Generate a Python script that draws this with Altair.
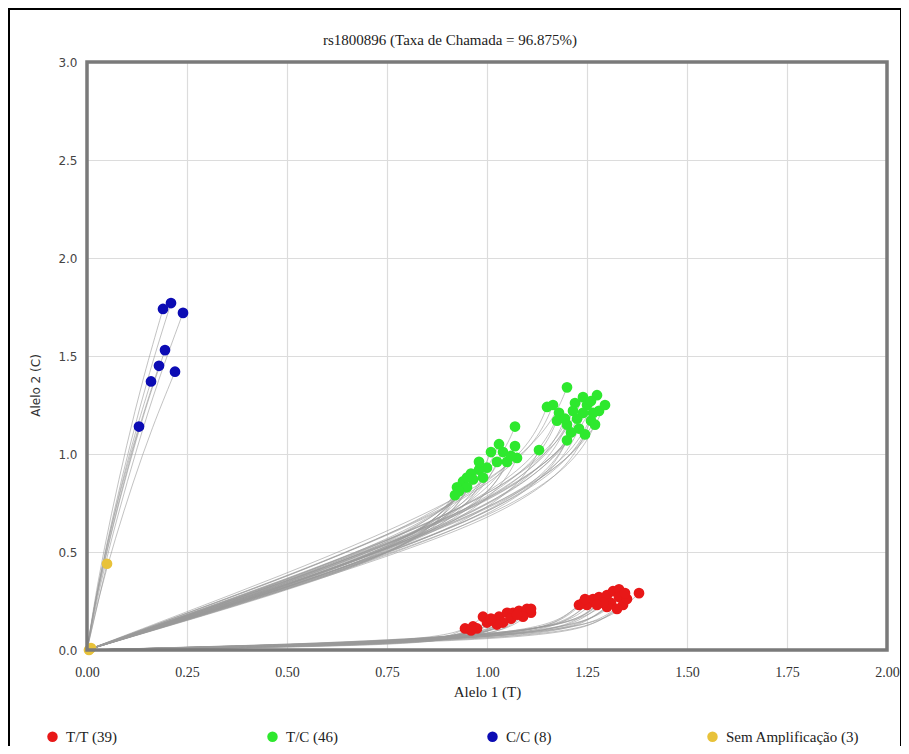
import altair as alt
import pandas as pd

# ---- data ----
TT_X = [0.945, 0.965, 0.99, 1.00, 1.015, 1.03, 1.05, 1.065, 1.08, 1.10, 1.11, 1.09, 1.06, 1.04, 1.025, 0.975,
        0.96, 1.01, 1.075, 1.11,
        1.24, 1.25, 1.265, 1.28, 1.30, 1.315, 1.33, 1.33, 1.31, 1.30, 1.34, 1.325, 1.38, 1.29, 1.23, 1.35,
        1.245, 1.275, 1.345]
TT_Y = [0.11, 0.12, 0.17, 0.14, 0.15, 0.17, 0.19, 0.19, 0.20, 0.21, 0.19, 0.17, 0.16, 0.14, 0.13, 0.11,
        0.10, 0.16, 0.18, 0.21,
        0.24, 0.23, 0.26, 0.27, 0.28, 0.30, 0.31, 0.27, 0.24, 0.22, 0.23, 0.21, 0.29, 0.24, 0.23, 0.26,
        0.26, 0.23, 0.29]

TC_X = [1.20, 1.275, 1.24, 1.15, 1.18, 1.215, 1.25, 1.28, 1.225, 1.26, 1.20, 1.23, 1.20, 1.265, 1.175,
        1.165, 1.22, 1.26, 1.195, 1.24, 1.27, 1.21, 1.245, 1.295,
        1.07, 1.13, 1.07, 1.04, 1.01, 1.075, 1.05, 1.025, 1.00, 0.98, 0.96, 0.99, 0.965, 0.94, 0.925,
        0.95, 0.93, 1.03, 0.98, 1.06, 0.95, 0.92]
TC_Y = [1.34, 1.30, 1.29, 1.24, 1.21, 1.22, 1.25, 1.22, 1.18, 1.17, 1.15, 1.13, 1.07, 1.21, 1.17,
        1.25, 1.26, 1.27, 1.18, 1.21, 1.15, 1.11, 1.10, 1.25,
        1.14, 1.02, 1.04, 1.01, 1.01, 0.98, 0.96, 0.96, 0.93, 0.92, 0.90, 0.88, 0.87, 0.86, 0.83,
        0.83, 0.81, 1.05, 0.96, 0.99, 0.88, 0.79]

CC_X = [0.19, 0.21, 0.24, 0.195, 0.18, 0.22, 0.16, 0.13]
CC_Y = [1.74, 1.77, 1.72, 1.53, 1.45, 1.42, 1.37, 1.14]

NA_X = [0.05, 0.01, 0.005]
NA_Y = [0.44, 0.01, 0.0]

GROUPS = ["T/T (39)", "T/C (46)", "C/C (8)", "Sem Amplificação (3)"]
COLORS = ["#e81818", "#2ee82e", "#0c0cb4", "#e8c23a"]

# trajectory shapes (fraction of the end point)
RED_FX = [0, 0.2, 0.4, 0.6, 0.78, 0.9, 0.96, 1]
RED_FY = [0, 0.05, 0.1, 0.18, 0.28, 0.43, 0.63, 1]
GREEN_FX = [0, 0.2, 0.4, 0.6, 0.8, 0.92, 0.976, 1]
GREEN_FY = [0, 0.14, 0.28, 0.43, 0.6, 0.76, 0.89, 1]
BLUE_FX = [0, 0.14, 0.32, 0.52, 0.74, 1]
BLUE_FY = [0, 0.2, 0.4, 0.6, 0.8, 1]
YEL_FX = [0, 1]
YEL_FY = [0, 1]

pts = []
for g, xs, ys in [(GROUPS[0], TT_X, TT_Y), (GROUPS[1], TC_X, TC_Y),
                  (GROUPS[2], CC_X, CC_Y), (GROUPS[3], NA_X, NA_Y)]:
    for x, y in zip(xs, ys):
        pts.append({"g": g, "x": x, "y": y})
points = pd.DataFrame(pts)

rows = []
tid = 0
for xs, ys, fx, fy in [(TT_X, TT_Y, RED_FX, RED_FY), (TC_X, TC_Y, GREEN_FX, GREEN_FY),
                       (CC_X, CC_Y, BLUE_FX, BLUE_FY), (NA_X, NA_Y, YEL_FX, YEL_FY)]:
    for x, y in zip(xs, ys):
        for k, (a, b) in enumerate(zip(fx, fy)):
            rows.append({"id": tid, "k": k, "x": a * x, "y": b * y})
        tid += 1
traj = pd.DataFrame(rows)

xscale = alt.Scale(domain=[0, 2], nice=False, zero=False)
yscale = alt.Scale(domain=[0, 3], nice=False, zero=False)

xaxis = alt.Axis(values=[0, 0.25, 0.5, 0.75, 1.0, 1.25, 1.5, 1.75, 2.0], format=".2f",
                 title="Alelo 1 (T)", labelFont="Liberation Serif", labelFontSize=14,
                 labelColor="#333", titleFont="Liberation Serif", titleFontSize=15,
                 titleFontWeight="normal", titleColor="#222", ticks=False, domain=False,
                 labelPadding=15, titlePadding=5, gridColor="#dcdcdc", gridWidth=1.2,
                 labelFlush=False)
yaxis = alt.Axis(values=[0, 0.5, 1.0, 1.5, 2.0, 2.5, 3.0], format=".1f",
                 title="Alelo 2 (C)", labelFont="DejaVu Sans", labelFontSize=12,
                 labelColor="#444", titleFont="DejaVu Sans", titleFontSize=12,
                 titleFontWeight="normal", titleColor="#333", ticks=False, domain=False,
                 labelPadding=10, gridColor="#dcdcdc", gridWidth=1.2,
                 titleX=-52, titleY=323, titleAngle=270, titleAlign="center",
                 titleBaseline="middle", labelFlush=False)

one = pd.DataFrame({"a": [0]})

outer = alt.Chart(one).mark_rect(
    filled=False, stroke="black", strokeWidth=2, clip=False).encode(
    x=alt.value(-78), x2=alt.value(814), y=alt.value(-53), y2=alt.value(730))

lines = alt.Chart(traj).mark_line(color="#9a9a9a", strokeWidth=1, opacity=0.6,
                                  interpolate="basis").encode(
    x=alt.X("x:Q", scale=xscale, axis=xaxis),
    y=alt.Y("y:Q", scale=yscale, axis=yaxis),
    detail="id:N",
    order="k:Q",
)

dots = alt.Chart(points).mark_circle(size=115, opacity=1).encode(
    x=alt.X("x:Q", scale=xscale),
    y=alt.Y("y:Q", scale=yscale),
    color=alt.Color("g:N", scale=alt.Scale(domain=GROUPS, range=COLORS), sort=GROUPS,
                    legend=alt.Legend(title=None, orient="none", legendX=-42, legendY=667,
                                      direction="horizontal", columns=4, gridAlign="all",
                                      columnPadding=65, symbolType="circle", symbolSize=110,
                                      labelFont="Liberation Serif", labelFontSize=15,
                                      labelColor="#222", labelOffset=6)),
)

plotframe = alt.Chart(one).mark_rect(
    filled=False, stroke="#7a7a7a", strokeWidth=3.5, clip=False).encode(
    x=alt.value(0), x2=alt.value(800), y=alt.value(0), y2=alt.value(588))

chart = alt.layer(outer, lines, dots, plotframe).properties(
    width=800, height=588,
    title=alt.TitleParams("rs1800896 (Taxa de Chamada = 96.875%)", font="Liberation Serif",
                          fontSize=15, fontWeight="normal", color="#222", anchor="middle",
                          frame="group", dx=-37, dy=54, offset=14),
    autosize=alt.AutoSizeParams(type="none"),
    padding={"left": 79, "top": 54, "right": 14, "bottom": 96},
).configure_view(stroke=None).configure(background="white")

chart.save("out.html", embed_options={"renderer": "svg", "actions": False})
